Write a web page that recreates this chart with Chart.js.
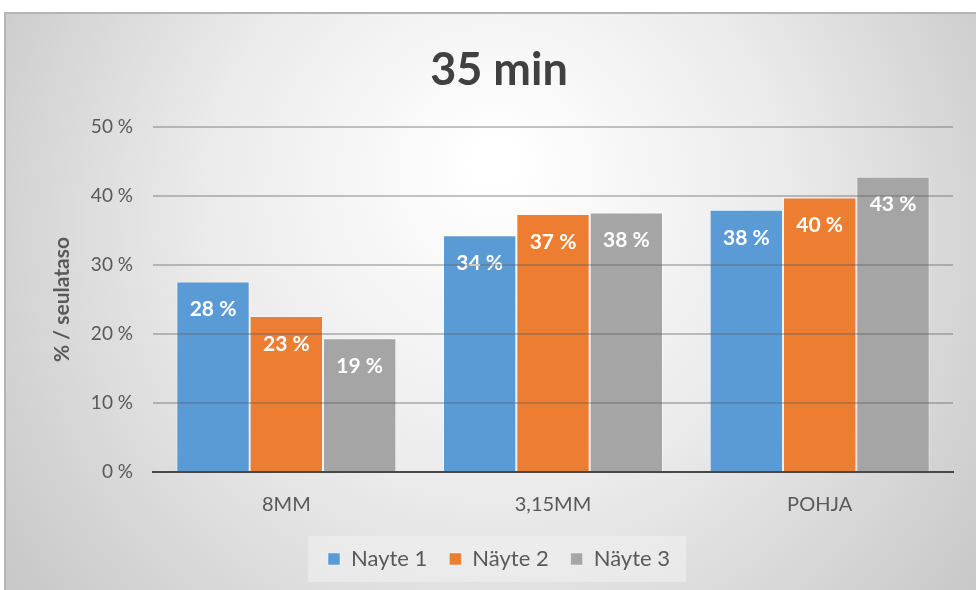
<!DOCTYPE html>
<html>
<head>
<meta charset="utf-8">
<script src="https://cdn.jsdelivr.net/npm/chart.js@4"></script>
<style>
  html, body { margin: 0; padding: 0; background: #ffffff; }
  #wrap { position: relative; width: 976px; height: 590px; }
</style>
</head>
<body>
<div id="wrap"><canvas id="c" width="976" height="590"></canvas></div>
<script>
const categories = ['8MM', '3,15MM', 'POHJA'];
const seriesNames = ['Nayte 1', 'Näyte 2', 'Näyte 3'];
const nayte1 = [27.6, 34.3, 38.0];
const nayte2 = [22.6, 37.4, 39.8];
const nayte3 = [19.4, 37.6, 42.8];
const yTicks = [0, 10, 20, 30, 40, 50];

const FONT = 'Lato, "DejaVu Sans", sans-serif';
const TEXT = '#595959';

// card background with soft radial shading and a thin frame
const cardBackground = {
  id: 'cardBackground',
  beforeDraw(chart) {
    const ctx = chart.ctx;
    ctx.save();
    ctx.fillStyle = '#ffffff';
    ctx.fillRect(0, 0, chart.width, chart.height);
    const x0 = 5, y0 = 13, w = chart.width - x0, h = chart.height - y0;
    const g = ctx.createRadialGradient(495, 160, 20, 495, 260, 620);
    g.addColorStop(0, '#ffffff');
    g.addColorStop(0.45, '#ebebeb');
    g.addColorStop(1, '#c4c4c4');
    ctx.fillStyle = g;
    ctx.fillRect(x0, y0, w, h);
    ctx.strokeStyle = '#b4b4b4';
    ctx.lineWidth = 2;
    ctx.beginPath();
    ctx.moveTo(x0, chart.height);
    ctx.lineTo(x0, y0);
    ctx.lineTo(chart.width, y0);
    ctx.stroke();

    // light panel behind the legend
    const lg = chart.legend;
    if (lg && lg.legendHitBoxes && lg.legendHitBoxes.length) {
      const boxes = lg.legendHitBoxes;
      const last = boxes[boxes.length - 1];
      const left = boxes[0].left - 20;
      const right = last.left + last.width + 16;
      const cy = boxes[0].top + boxes[0].height / 2;
      ctx.fillStyle = 'rgba(240,240,240,0.6)';
      ctx.fillRect(left, cy - 23, right - left, 46);
    }
    ctx.restore();
  }
};

// value labels inside the top of each bar
const barLabels = {
  id: 'barLabels',
  afterDatasetsDraw(chart) {
    const ctx = chart.ctx;
    ctx.save();
    ctx.font = 'bold 21px ' + FONT;
    ctx.fillStyle = '#ffffff';
    ctx.textAlign = 'center';
    ctx.textBaseline = 'middle';
    chart.data.datasets.forEach((ds, i) => {
      chart.getDatasetMeta(i).data.forEach((bar, j) => {
        ctx.fillText(Math.round(ds.data[j]) + ' %', bar.x, bar.y + 28);
      });
    });
    ctx.restore();
  }
};

new Chart(document.getElementById('c'), {
  type: 'bar',
  data: {
    labels: categories,
    datasets: [
      { label: seriesNames[0], data: nayte1, backgroundColor: '#5b9bd5' },
      { label: seriesNames[1], data: nayte2, backgroundColor: '#ed7d31' },
      { label: seriesNames[2], data: nayte3, backgroundColor: '#a5a5a5' }
    ].map(d => Object.assign(d, {
      borderColor: 'rgba(255,255,255,0.45)',
      borderWidth: 1,
      categoryPercentage: 0.825,
      barPercentage: 1
    }))
  },
  options: {
    responsive: false,
    animation: false,
    layout: { padding: { top: 0, right: 0, bottom: 10, left: 22 } },
    plugins: {
      title: {
        display: true,
        text: '35 min',
        color: '#404040',
        font: { family: FONT, size: 45, weight: 'bold' },
        padding: { top: 43, bottom: 30 }
      },
      legend: {
        position: 'bottom',
        labels: {
          color: TEXT,
          font: { family: FONT, size: 22 },
          boxWidth: 12,
          boxHeight: 12,
          padding: 22
        }
      },
      tooltip: { enabled: false }
    },
    scales: {
      x: {
        grid: { display: false, drawTicks: false },
        border: { display: true, color: '#404040', width: 2 },
        ticks: { color: TEXT, font: { family: FONT, size: 20 }, padding: 21 },
        afterFit(scale) { scale.height = 54; }
      },
      y: {
        min: 0,
        max: 50,
        afterBuildTicks(scale) { scale.ticks = yTicks.map(v => ({ value: v })); },
        grid: { color: 'rgba(90,90,90,0.35)', lineWidth: 2, drawTicks: false, z: 1 },
        border: { display: false },
        ticks: {
          color: TEXT,
          font: { family: FONT, size: 19 },
          padding: 20,
          callback: v => v + ' %'
        },
        title: {
          display: true,
          text: '% / seulataso',
          color: TEXT,
          font: { family: FONT, size: 21, weight: 'bold' },
          padding: { top: 28, bottom: 0 }
        },
        afterFit(scale) { scale.width = 131; }
      },
      // empty spacer on the right edge of the plot
      spacer: {
        type: 'linear',
        position: 'right',
        display: true,
        grid: { display: false, drawTicks: false },
        border: { display: false },
        ticks: { display: false },
        afterFit(scale) { scale.width = 23; }
      }
    }
  },
  plugins: [cardBackground, barLabels]
});
</script>
</body>
</html>
